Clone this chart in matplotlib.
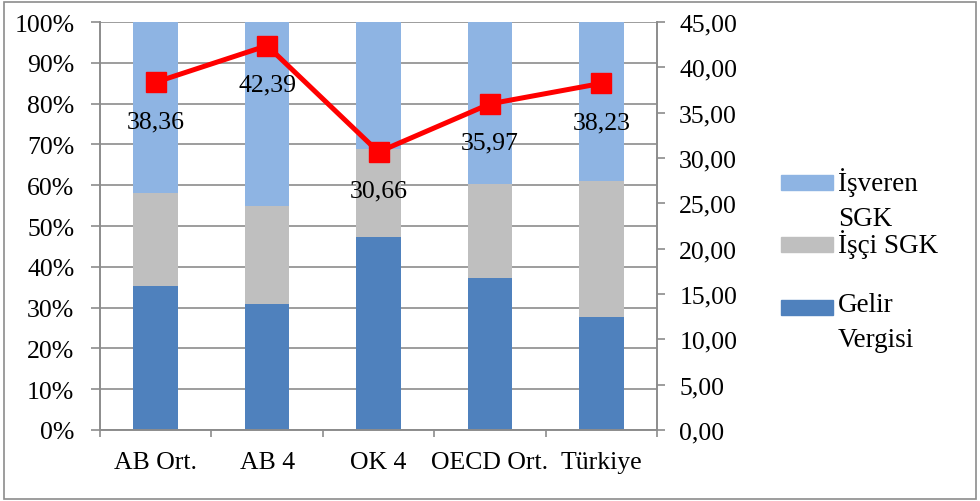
import matplotlib.pyplot as plt
from matplotlib.patches import Rectangle
from matplotlib.ticker import FuncFormatter, FixedLocator

categories = ['AB Ort.', 'AB 4', 'OK 4', 'OECD Ort.', 'Türkiye']
gelir_vergisi = [35.2, 30.9, 47.4, 37.2, 27.6]
isci_sgk = [23.0, 24.1, 21.5, 23.1, 33.5]
isveren_sgk = [100 - g - i for g, i in zip(gelir_vergisi, isci_sgk)]
toplam_vergi = [38.36, 42.39, 30.66, 35.97, 38.23]

series_names = ['İşveren\nSGK', 'İşçi SGK', 'Gelir\nVergisi']
series_colors = ['#8EB4E3', '#BFBFBF', '#4F81BD']

plt.rcParams['font.family'] = ['Liberation Serif', 'DejaVu Serif']
FS = 18.5
GRID = '#8C8C8C'

fig = plt.figure(figsize=(9.8, 5.02), dpi=100)
ax = fig.add_axes([100 / 980, 1 - 431 / 502, 557 / 980, 408 / 502])
ax2 = ax.twinx()

x = range(len(categories))
ax.bar(x, gelir_vergisi, width=0.4, color=series_colors[2], zorder=2)
ax.bar(x, isci_sgk, width=0.4, bottom=gelir_vergisi, color=series_colors[1], zorder=2)
bottoms = [g + i for g, i in zip(gelir_vergisi, isci_sgk)]
ax.bar(x, isveren_sgk, width=0.4, bottom=bottoms, color=series_colors[0], zorder=2)

ax.set_xlim(-0.5, len(categories) - 0.5)
ax.set_ylim(0, 100)
ax.set_yticks(range(0, 101, 10))
ax.yaxis.set_major_formatter(FuncFormatter(lambda v, p: '%d%%' % v))
ax.grid(axis='y', color=GRID, linewidth=1.2, zorder=0)
ax.set_axisbelow(True)

ax.set_xticks(list(x))
ax.set_xticklabels(categories, fontsize=FS)
ax.xaxis.set_minor_locator(FixedLocator([i - 0.5 for i in range(len(categories) + 1)]))
ax.tick_params(axis='x', which='major', length=0, pad=15)
ax.tick_params(axis='x', which='minor', length=5, color=GRID, width=1.2)
ax.tick_params(axis='y', length=6.5, color=GRID, width=1.2, pad=12, labelsize=FS)

ax2.plot(x, toplam_vergi, color='#FF0000', linewidth=3.6, marker='s',
         markersize=14, zorder=5)
for xi, v in zip(x, toplam_vergi):
    ax2.annotate(('%.2f' % v).replace('.', ','), (xi, v), xytext=(0, -28),
                 textcoords='offset points', ha='center', va='center', fontsize=FS)
ax2.set_ylim(0, 45)
ax2.set_yticks(range(0, 46, 5))
ax2.yaxis.set_major_formatter(FuncFormatter(lambda v, p: ('%.2f' % v).replace('.', ',')))
ax2.tick_params(axis='y', length=6, color=GRID, width=1.2, pad=10, labelsize=FS)

for a in (ax, ax2):
    for side in a.spines:
        a.spines[side].set_color(GRID)
        a.spines[side].set_linewidth(1.2)
    a.spines['top'].set_visible(False)

# legend
leg_y = [183, 245, 308]
for name, color, y in zip(series_names, series_colors, leg_y):
    fig.patches.append(Rectangle((781 / 980, 1 - (y + 7.5) / 502), 52 / 980, 15 / 502,
                                 transform=fig.transFigure, color=color))
    fig.text(838 / 980, 1 - (y - 15) / 502, name, fontsize=FS + 1, va='top', ha='left',
             linespacing=1.55)

fig.patches.append(Rectangle((4 / 980, 2 / 502), 972 / 980, 497 / 502,
                             transform=fig.transFigure, fill=False,
                             edgecolor='#8C8C8C', linewidth=1.2))

fig.savefig('out.png', dpi=100)
